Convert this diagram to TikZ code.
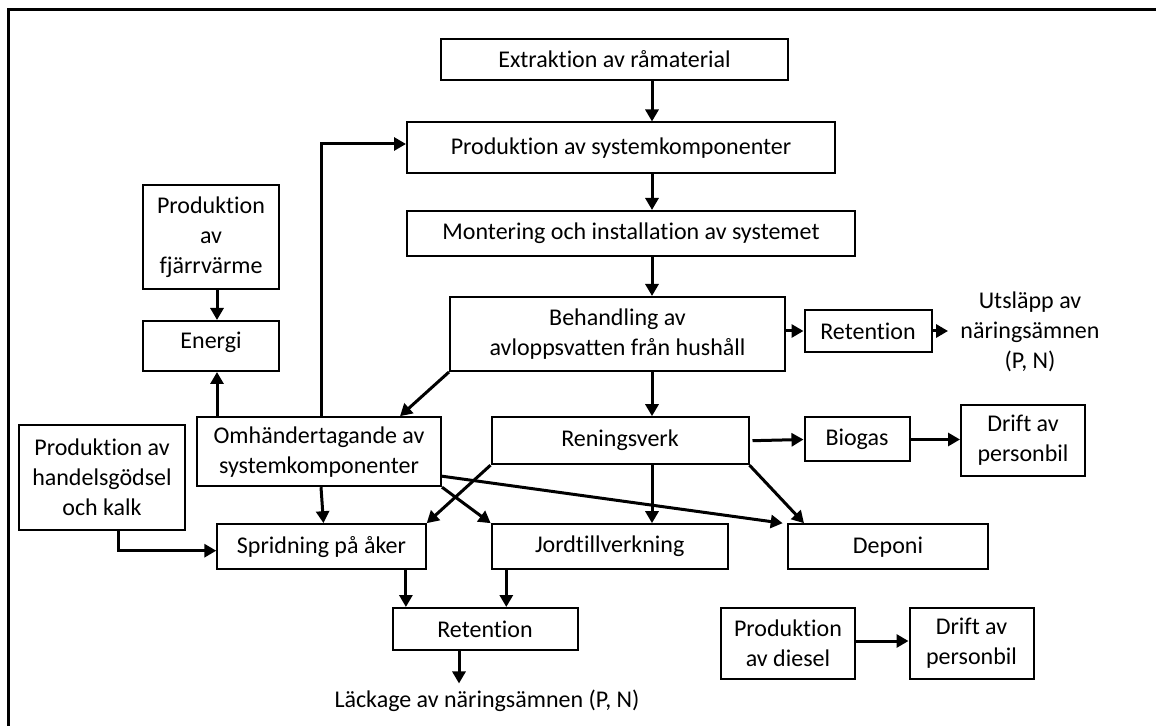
\documentclass[tikz,border=0pt]{standalone}
\usepackage{fontspec}
\setmainfont[Ligatures=NoCommon]{Carlito}
\usepackage{tikz}
\usetikzlibrary{calc}
\usetikzlibrary{arrows.meta}

\tikzset{
  ruta/.style={draw, line width=1pt, inner sep=0pt, align=center,
    font=\fontsize{12}{15}\selectfont},
  fritext/.style={inner sep=2pt, align=center, font=\fontsize{12}{15}\selectfont},
  pil/.style={line width=1.5pt, -{Triangle[length=6pt,width=6.5pt]}}
}

\begin{document}
\begin{tikzpicture}[x=0.5pt,y=-0.5pt]
        \useasboundingbox (0,0) rectangle (1156,726);
        %RAM
        \draw[line width=1.5pt] (8,726) -- (8,10) -- (1156,10);
        %KOORDINAT
        \coordinate (rygg) at (652,0);
        %RUTOR
        \node[ruta, minimum width=173.5pt, minimum height=20.5pt] (extr) at (614.5,59.5) {Extraktion av råmaterial};
        \node[ruta, minimum width=214pt, minimum height=25.5pt] (prod) at (621,148) {Produktion av systemkomponenter};
        \node[ruta, minimum width=224pt, minimum height=22.5pt] (mont) at (631,233.5) {Montering och installation av systemet};
        \node[ruta, minimum width=167.5pt, minimum height=37pt] (beh) at (617.5,334) {Behandling av\\avloppsvatten från hushåll};
        \node[ruta, minimum width=63.5pt, minimum height=21pt] (retH) at (868,331) {Retention};
        \node[fritext] (utsl) at (1030,332) {Utsläpp av\\näringsämnen\\(P, N)};
        \node[ruta, minimum width=68pt, minimum height=52pt] (fjarr) at (211,237) {Produktion\\av\\fjärrvärme};
        \node[ruta, minimum width=68pt, minimum height=25pt] (energi) at (211,346) {};
        \node (energitxt) at (211,342) {\fontsize{12}{15}\selectfont Energi};
        \node[ruta, minimum width=122pt, minimum height=34.5pt] (omh) at (319,451.7) {Omhändertagande av\\systemkomponenter};
        \node[ruta, minimum width=83pt, minimum height=52.5pt] (handel) at (102,477.7) {Produktion av\\handelsgödsel\\och kalk};
        \node[ruta, minimum width=128.5pt, minimum height=23.5pt] (ren) at (620,440.7) {Reningsverk};
        \node[ruta, minimum width=52.5pt, minimum height=22pt] (biogas) at (857,439.5) {Biogas};
        \node[ruta, minimum width=62pt, minimum height=35.5pt] (driftA) at (1023,440.5) {Drift av\\personbil};
        \node[ruta, minimum width=104.2pt, minimum height=22.5pt] (sprid) at (321.5,546.7) {Spridning på åker};
        \node[ruta, minimum width=118pt, minimum height=22.5pt] (jord) at (609.7,546.7) {Jordtillverkning};
        \node[ruta, minimum width=100.3pt, minimum height=22.5pt] (deponi) at (888,546.7) {Deponi};
        \node[ruta, minimum width=92.5pt, minimum height=21pt] (retL) at (485,629) {Retention};
        \node[fritext] (lack) at (487,700.7) {Läckage av näringsämnen (P, N)};
        \node[ruta, minimum width=67pt, minimum height=35.5pt] (diesel) at (788,643) {Produktion\\av diesel};
        \node[ruta, minimum width=62pt, minimum height=35.5pt] (driftB) at (971.5,643) {Drift av\\personbil};

        %PILAR
        \draw[pil] (extr.south -| rygg) -- (prod.north -| rygg);
        \draw[pil] (prod.south -| rygg) -- (mont.north -| rygg);
        \draw[pil] (mont.south -| rygg) -- (beh.north -| rygg);
        \draw[pil] (beh.south -| rygg) -- (ren.north -| rygg);
        \draw[pil] (ren.south -| rygg) -- (jord.north -| rygg);
        \draw[pil] (beh.east |- retH) -- (retH.west);
        \draw[pil] (retH.east) -- ([xshift=-4pt]utsl.west |- retH);
        \draw[pil] ([xshift=3pt]fjarr.south) -- ([xshift=3pt]energi.north);
        \draw[pil] ([xshift=3pt]energi.south |- omh.north) -- ([xshift=3pt]energi.south);
        \draw[pil] ([xshift=1pt]omh.north) |- ([yshift=2pt]prod.west);
        \draw[pil] (beh.south west) -- ([xshift=-21pt]omh.north east);
        \draw[pil] ([xshift=8pt]handel.south) |- ([yshift=-2pt]sprid.west);
        \draw[pil] ([xshift=1pt]omh.south) -- ([xshift=1pt]sprid.north);
        \draw[pil] (ren.south west) -- (sprid.north east);
        \draw[pil] (omh.south east) -- (jord.north west);
        \draw[pil] ([yshift=5.5pt]omh.south east) -- ([xshift=-2pt]deponi.north west);
        \draw[pil] (ren.south east) -- ([xshift=-42pt]deponi.north);
        \draw[pil] ([xshift=1.5pt]ren.east) -- (biogas.west);
        \draw[pil] (biogas.east) -- (biogas.east -| driftA.west);
        \draw[pil] ([xshift=7.2pt]retL.north west |- sprid.south) -- ([xshift=7.2pt]retL.north west);
        \draw[pil] ([xshift=7.8pt]jord.south west) -- ([xshift=7.8pt]jord.south west |- retL.north);
        \draw[pil] ([xshift=-13pt]retL.south) -- ([xshift=-13pt,yshift=1pt]retL.south |- lack.north);
        \draw[pil] ([yshift=1pt]diesel.east) -- ([yshift=1pt]diesel.east -| driftB.west);

    \end{tikzpicture}
\end{document}
